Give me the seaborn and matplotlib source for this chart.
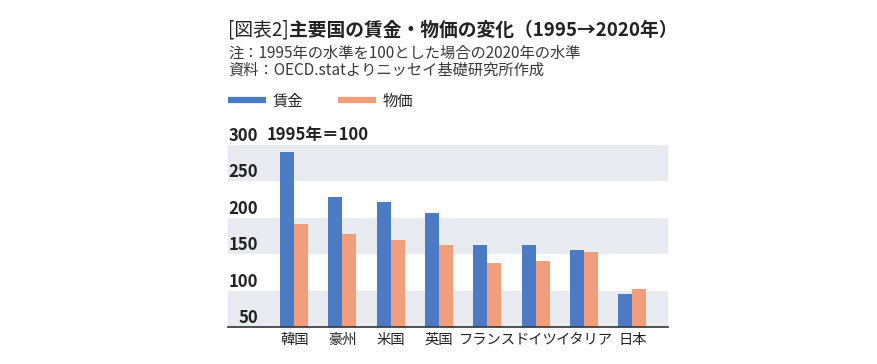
import numpy as np
import pandas as pd
import matplotlib
matplotlib.use('Agg')
import matplotlib.pyplot as plt
import seaborn as sns
from matplotlib.lines import Line2D

# data (1995 = 100)
countries = ['韓国', '豪州', '米国', '英国', 'フランス', 'ドイツ', 'イタリア', '日本']
wages = [290, 228, 222, 207, 163, 163, 156, 95]
prices = [192, 178, 169, 163, 138, 140, 153, 102]
series = ['賃金', '物価']
yticks = [50, 100, 150, 200, 250, 300]

df = pd.DataFrame({
    '国': countries * 2,
    '値': wages + prices,
    '系列': [series[0]] * len(countries) + [series[1]] * len(countries),
})

sns.set_theme(style='white')
plt.rcParams['font.family'] = ['Noto Sans CJK JP', 'DejaVu Sans']

blue = '#4a7bc4'
orange = '#f29e78'
band = '#e8ebef'
txt = '#222222'

W, H = 878, 364
fig = plt.figure(figsize=(W / 100, H / 100), dpi=100)
ax = fig.add_axes([228 / W, 1 - 327 / H, 440 / W, 182 / H])

# alternating grey bands
for lo in yticks[::2]:
    ax.axhspan(lo, lo + 50, color=band, lw=0, zorder=0)

sns.barplot(data=df, x='国', y='値', hue='系列', palette=[blue, orange],
            width=0.58, saturation=1, legend=False, linewidth=0, ax=ax, zorder=2)

ax.set_ylim(50, 300)
ax.set_xlim(-1.37, 7.74)
ax.set_xlabel('')
ax.set_ylabel('')
for s in ['left', 'right', 'top']:
    ax.spines[s].set_visible(False)
ax.spines['bottom'].set_color('#333333')
ax.spines['bottom'].set_linewidth(1.2)

ax.set_yticks(yticks)
ax.set_yticklabels([str(v) for v in yticks], fontsize=12, fontweight='bold',
                   va='bottom', ha='right', color=txt)
ax.tick_params(axis='y', length=0, pad=-21.6)
ax.tick_params(axis='x', length=0, pad=4, labelsize=10.3, labelcolor=txt)

fig.text(267 / W, 1 - 135 / H, '1995年＝100', fontsize=12, fontweight='bold',
         va='center', color=txt)

# title and notes
t1 = fig.text(228 / W, 1 - 30 / H, '[図表2]', fontsize=13.5, va='center', color=txt)
ax.annotate('主要国の賃金・物価の変化（1995→2020年）', xy=(1, 0.5), xycoords=t1,
            va='center', ha='left', fontsize=13.5, fontweight='bold', color=txt)
fig.text(228 / W, 1 - 53 / H, '注：1995年の水準を100とした場合の2020年の水準',
         fontsize=11, va='center', color='#3a3a3a')
fig.text(228 / W, 1 - 70 / H, '資料：OECD.statよりニッセイ基礎研究所作成',
         fontsize=11, va='center', color='#3a3a3a')

handles = [Line2D([], [], color=c, lw=4.5, solid_capstyle='butt') for c in (blue, orange)]
fig.legend(handles, series, loc='center left', bbox_to_anchor=(228 / W, 1 - 101 / H),
           ncol=2, frameon=False, fontsize=11, handlelength=2.5, handletextpad=0.4,
           columnspacing=2.3, borderpad=0, borderaxespad=0)

fig.savefig('out.png', dpi=100)
